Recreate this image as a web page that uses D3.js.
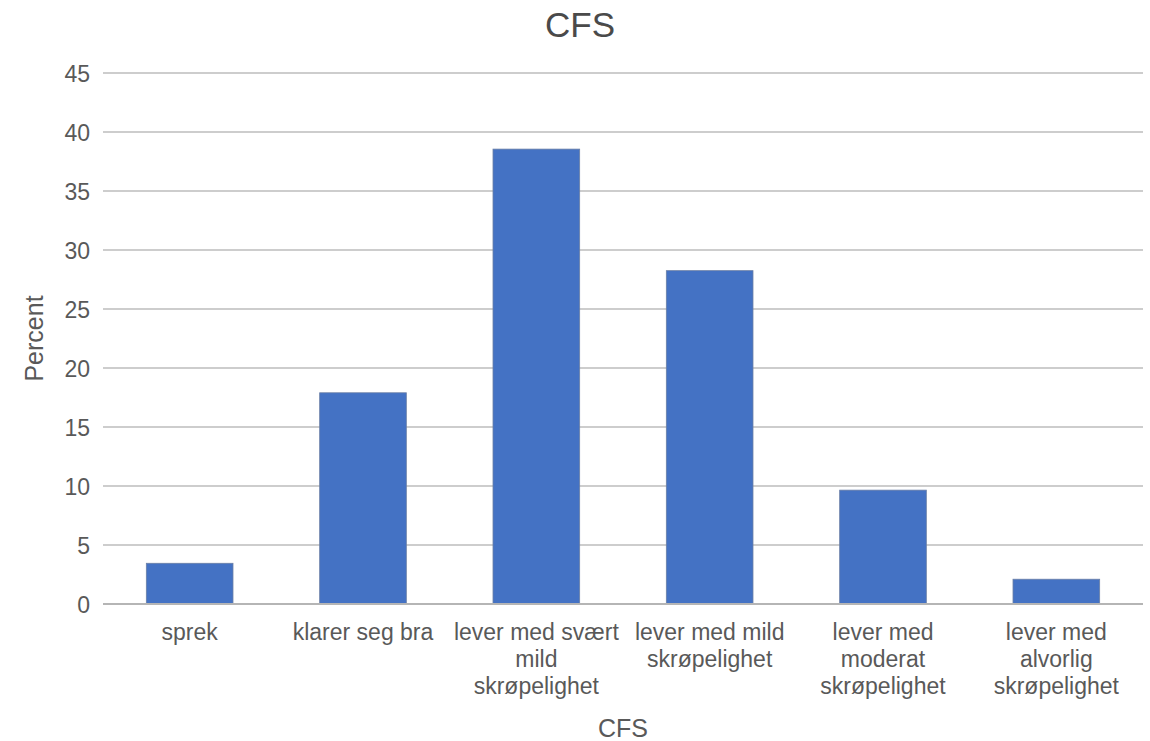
<!DOCTYPE html>
<html>
<head>
<meta charset="utf-8">
<script src="https://cdn.jsdelivr.net/npm/d3@7"></script>
<style>
  html, body { margin: 0; padding: 0; background: #fff; }
  svg { display: block; font-family: "Liberation Sans", Arial, sans-serif; }
</style>
</head>
<body>
<svg id="chart" width="1150" height="741"></svg>
<script>
// CFS distribution (percent of respondents per category)
const categories = [
  "sprek",
  "klarer seg bra",
  "lever med svært mild skrøpelighet",
  "lever med mild skrøpelighet",
  "lever med moderat skrøpelighet",
  "lever med alvorlig skrøpelighet"
];
const percentValues = [3.45, 17.9, 38.55, 28.25, 9.65, 2.1];
const yTicks = [0, 5, 10, 15, 20, 25, 30, 35, 40, 45];
const chartTitle = "CFS";
const xTitle = "CFS";
const yTitle = "Percent";

const svg = d3.select("#chart");
const margin = { left: 103, right: 7, top: 73, bottom: 137 };
const W = 1150, H = 741;
const textColor = "#595959";

const x = d3.scaleBand()
  .domain(categories)
  .range([margin.left, W - margin.right])
  .paddingInner(0.5)
  .paddingOuter(0.25);

const y = d3.scaleLinear()
  .domain([0, 45])
  .range([H - margin.bottom, margin.top]);

// Horizontal gridlines
svg.append("g")
  .selectAll("line")
  .data(yTicks)
  .join("line")
  .attr("x1", margin.left)
  .attr("x2", W - margin.right)
  .attr("y1", d => y(d))
  .attr("y2", d => y(d))
  .attr("stroke", "#bdbdbd")
  .attr("stroke-width", 1.6);

// Y axis tick labels
const yAxis = d3.axisLeft(y).tickValues(yTicks).tickSize(0).tickPadding(13);
const gy = svg.append("g")
  .attr("transform", `translate(${margin.left},0)`)
  .call(yAxis);
gy.select(".domain").remove();
gy.selectAll("text")
  .attr("fill", textColor)
  .style("font-size", "23px")
  .attr("dy", "0.35em");

// Bars
svg.append("g")
  .selectAll("rect")
  .data(categories.map((c, i) => ({ c, v: percentValues[i] })))
  .join("rect")
  .attr("x", d => x(d.c))
  .attr("width", x.bandwidth())
  .attr("y", d => y(d.v))
  .attr("height", d => y(0) - y(d.v))
  .attr("fill", "#4472c4")
  .attr("stroke", "#6b7fa6")
  .attr("stroke-width", 0.8);

// Baseline on top of bars
svg.append("line")
  .attr("x1", margin.left)
  .attr("x2", W - margin.right)
  .attr("y1", y(0))
  .attr("y2", y(0))
  .attr("stroke", "#b5b5b5")
  .attr("stroke-width", 1.8);

// X axis category labels, wrapped to the band step
const xAxis = d3.axisBottom(x).tickSize(0).tickPadding(0);
const gx = svg.append("g")
  .attr("transform", `translate(0,${y(0)})`)
  .call(xAxis);
gx.select(".domain").remove();
gx.selectAll("text")
  .attr("fill", textColor)
  .style("font-size", "23px")
  .attr("y", 36)
  .attr("dy", 0)
  .each(function () { wrap(d3.select(this), x.step()); });

function wrap(text, width) {
  const words = text.text().split(/\s+/);
  const lineHeight = 27;
  const yPos = +text.attr("y");
  text.text(null);
  let line = [];
  let lineNo = 0;
  let tspan = text.append("tspan").attr("x", 0).attr("y", yPos);
  for (const w of words) {
    line.push(w);
    tspan.text(line.join(" "));
    if (tspan.node().getComputedTextLength() > width && line.length > 1) {
      line.pop();
      tspan.text(line.join(" "));
      line = [w];
      lineNo++;
      tspan = text.append("tspan")
        .attr("x", 0)
        .attr("y", yPos + lineNo * lineHeight)
        .text(w);
    }
  }
}

// Chart title, centred over the whole canvas
svg.append("text")
  .attr("x", 580)
  .attr("y", 37)
  .attr("text-anchor", "middle")
  .attr("fill", "#4a4a4a")
  .style("font-size", "35px")
  .text(chartTitle);

// X axis title
svg.append("text")
  .attr("x", (margin.left + W - margin.right) / 2)
  .attr("y", 737)
  .attr("text-anchor", "middle")
  .attr("fill", textColor)
  .style("font-size", "25px")
  .text(xTitle);

// Y axis title
svg.append("text")
  .attr("transform", `translate(43,${(y(0) + y(45)) / 2}) rotate(-90)`)
  .attr("text-anchor", "middle")
  .attr("fill", textColor)
  .style("font-size", "25px")
  .text(yTitle);
</script>
</body>
</html>
